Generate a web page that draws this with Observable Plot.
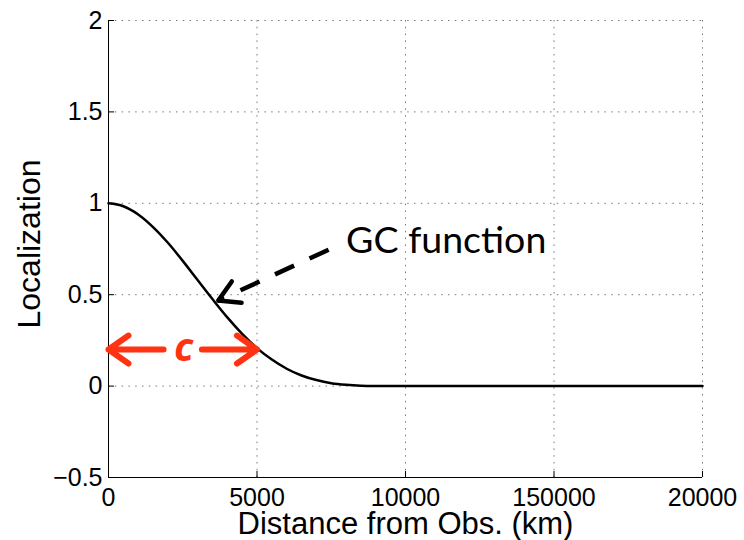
<!DOCTYPE html>
<html>
<head>
<meta charset="utf-8">
<script src="https://cdn.jsdelivr.net/npm/d3@7"></script>
<script src="https://cdn.jsdelivr.net/npm/@observablehq/plot@0.6"></script>
<style>
  html, body { margin: 0; padding: 0; background: #fff; overflow: hidden; }
  #chart svg { display: block; background: #fff; }
</style>
</head>
<body>
<div id="chart"></div>
<script>
// Gaspari–Cohn localization weight against distance from the observation
const distanceKm = [0, 500, 1000, 1500, 2000, 2500, 3000, 3500, 4000, 4500, 5000,
  5500, 6000, 6500, 7000, 7500, 8000, 8500, 9000, 9500, 10000, 15000, 20000];
const localization = [1.000, 0.984, 0.939, 0.870, 0.784, 0.685, 0.580, 0.476, 0.376, 0.286, 0.208,
  0.145, 0.095, 0.058, 0.033, 0.016, 0.007, 0.002, 0.0004, 0, 0, 0, 0];

// Axis ticks and their printed labels
const xTicks = [0, 5000, 10000, 15000, 20000];
const xTickLabels = ["0", "5000", "10000", "150000", "20000"];
const yTicks = [-0.5, 0, 0.5, 1, 1.5, 2];
const yTickLabels = ["\u22120.5", "0", "0.5", "1", "1.5", "2"];

// Annotation: "GC function" label with a dashed pointer onto the curve
const gcLabel = [{text: "GC function", x: 8000, y: 0.729}];
const gcPointer = [{x1: 7411, y1: 0.746, x2: 3696, y2: 0.468, xs: 4444, ys: 0.524}];

// Annotation: half-width c marked by two red arrows
const halfWidthLabel = [{text: "c", x: 2530, y: 0.14}];
const halfWidthArrows = [
  {x1: 3000, x2: 0, y: 0.2},
  {x1: 2000, x2: 5000, y: 0.2}
];

const W = 744, H = 540;
const mL = 108, mR = 42, mT = 20, mB = 63;
const xDomain = [0, 20000], yDomain = [-0.5, 2];
const xPerPx = (xDomain[1] - xDomain[0]) / (W - mL - mR);
const yPerPx = (yDomain[1] - yDomain[0]) / (H - mT - mB);
const tickLen = 6;

const curveRows = distanceKm.map((d, i) => ({d, w: localization[i]}));

const sans = "'Liberation Sans', Arial, Helvetica, sans-serif";
const red = "#ff3311";
const gridStyle = {stroke: "#777", strokeOpacity: 1, strokeWidth: 1, strokeDasharray: "1.5,5.3"};

const chart = Plot.plot({
  width: W,
  height: H,
  marginLeft: mL,
  marginRight: mR,
  marginTop: mT,
  marginBottom: mB,
  style: {fontFamily: sans, background: "#fff", color: "#000"},
  x: {domain: xDomain, axis: null},
  y: {domain: yDomain, axis: null},
  marks: [
    Plot.gridX(xTicks, gridStyle),
    Plot.gridY(yTicks, gridStyle),
    // axis lines (left and bottom only)
    Plot.ruleX([xDomain[0]], {stroke: "#000", strokeWidth: 1}),
    Plot.ruleY([yDomain[0]], {stroke: "#000", strokeWidth: 1}),
    // inward ticks
    Plot.ruleX(xTicks, {x: d => d, y1: yDomain[0], y2: yDomain[0] + tickLen * yPerPx, stroke: "#000"}),
    Plot.ruleY(yTicks, {y: d => d, x1: xDomain[0], x2: xDomain[0] + tickLen * xPerPx, stroke: "#000"}),
    Plot.axisX(xTicks, {
      tickSize: 0, tickPadding: 11, fontSize: 25, fontFamily: sans, label: null,
      tickFormat: d => xTickLabels[xTicks.indexOf(d)]
    }),
    Plot.axisY(yTicks, {
      tickSize: 0, tickPadding: 6, fontSize: 25, fontFamily: sans, label: null,
      tickFormat: d => yTickLabels[yTicks.indexOf(d)]
    }),
    Plot.text(["Distance from Obs. (km)"], {
      frameAnchor: "bottom", textAnchor: "middle", lineAnchor: "bottom", dy: 56,
      fontSize: 31, fontFamily: sans, text: d => d
    }),
    Plot.text(["Localization"], {
      frameAnchor: "left", textAnchor: "middle", lineAnchor: "middle", rotate: -90,
      dx: -78.5, dy: -5, fontSize: 32, fontFamily: sans, text: d => d
    }),
    // the localization curve
    Plot.line(curveRows, {x: "d", y: "w", curve: "monotone-x", stroke: "#000", strokeWidth: 2.5}),
    // dashed pointer and its open head
    Plot.link(gcPointer, {x1: "x1", y1: "y1", x2: "xs", y2: "ys", stroke: "#000", strokeWidth: 4.5, strokeDasharray: "21,17"}),
    Plot.arrow(gcPointer, {x1: "x1", y1: "y1", x2: "x2", y2: "y2", stroke: "#000", strokeWidth: 4.5,
      headLength: 7.8, headAngle: 60, insetStart: 117}),
    Plot.text(gcLabel, {x: "x", y: "y", text: "text", textAnchor: "start", lineAnchor: "bottom",
      fontFamily: "Lato, 'Open Sans', sans-serif", fontSize: 37.5, fill: "#000"}),
    // red arrows spanning the half-width c
    Plot.arrow(halfWidthArrows, {x1: "x1", x2: "x2", y1: "y", y2: "y", stroke: red, strokeWidth: 6,
      headLength: 6.1, headAngle: 70, insetStart: 34, strokeLinecap: "round", strokeLinejoin: "round"}),
    Plot.text(halfWidthLabel, {x: "x", y: "y", text: "text", lineAnchor: "bottom", textAnchor: "middle",
      fontFamily: "'Open Sans', Lato, sans-serif", fontWeight: "bold", fontStyle: "italic", fontSize: 40, fill: red})
  ]
});

document.getElementById("chart").appendChild(chart);
</script>
</body>
</html>
